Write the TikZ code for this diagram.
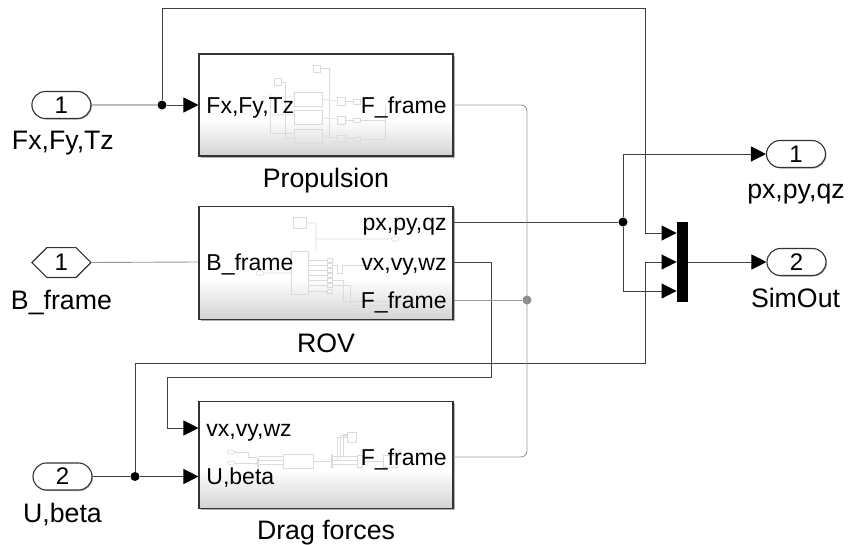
\documentclass[tikz,border=0pt]{standalone}
\usepackage{fontspec}
\setmainfont{Liberation Sans}
\usepackage{xcolor}
\usetikzlibrary{positioning,arrows.meta,calc,shapes.misc,shadows}
\pgfdeclareverticalshading{blkgrad}{100bp}{color(0bp)=(black!17); color(25bp)=(black!17); color(43bp)=(white); color(100bp)=(white)}

\begin{document}
\begin{tikzpicture}[x=1pt,y=-1pt,>={Triangle[length=15pt,width=15pt,color=black]},line width=0.9pt]
\tikzstyle{blk}=[draw=black!80,line width=1.1pt,shading=blkgrad,minimum width=254pt,inner sep=0pt,drop shadow={shadow xshift=1.5pt,shadow yshift=-1.5pt,fill=black,opacity=.3}]
\tikzstyle{txt}=[font=\fontsize{23}{26}\selectfont,inner sep=0pt,text height=16.5pt,text depth=0pt]
\tikzstyle{lbl}=[font=\fontsize{26.7}{29}\selectfont,inner sep=0pt,text height=18.6pt,text depth=0pt]
\tikzstyle{inp}=[draw=black!80,line width=1.1pt,fill=white,rounded rectangle,minimum width=59pt,minimum height=27pt,inner sep=0pt,font=\fontsize{24}{26}\selectfont,drop shadow={shadow xshift=1pt,shadow yshift=-1pt,fill=black,opacity=.3}]
\tikzstyle{gto}=[draw=black!80,line width=1.1pt,fill=white,chamfered rectangle,chamfered rectangle xsep=12pt,chamfered rectangle ysep=14pt,minimum width=59pt,minimum height=28pt,inner sep=0pt,font=\fontsize{24}{26}\selectfont]
\tikzstyle{wire}=[draw=black!75]
\tikzstyle{gwire}=[draw=black!40,rounded corners=6pt]
\tikzstyle{dot}=[circle,fill=black,inner sep=0pt,minimum size=9pt]
\tikzstyle{gdot}=[circle,fill=black!45,inner sep=0pt,minimum size=9pt]
\tikzstyle{thumb}=[draw=black!14,line width=.6pt]
\useasboundingbox (0,0) rectangle (848,544);

\node[blk,minimum height=102pt] (prop) at (326,105) {};
\node[blk,minimum height=113pt,below=49pt of prop] (rov) {};
\node[blk,minimum height=107pt,below=81pt of rov] (drag) {};

% faint contents of the subsystems
\draw[thumb] (294,92) rectangle (322,106) (294,110) rectangle (322,124) (294,129) rectangle (322,143);
\draw[thumb] (313,65) rectangle (320,72) (274,78) rectangle (281,85);
\draw[thumb] (337,97) rectangle (345,105) (337,116) rectangle (345,124) (337,135) rectangle (345,142);
\draw[thumb] (353,99) rectangle (360,104) (353,118) rectangle (360,122) (353,137) rectangle (360,141);
\draw[thumb] (320,68)--(329,68)--(329,138) (281,82)--(285,82)--(285,138)--(294,138) (270,95)--(270,133)--(294,133);
\draw[thumb] (262,97)--(294,97) (272,115)--(294,115) (322,99)--(337,101) (322,118)--(337,119) (322,137)--(337,138);
\draw[thumb] (345,101)--(353,101) (345,120)--(353,120) (345,138)--(353,138) (360,120)--(385,120) (360,139)--(385,139)--(385,105);

\draw[thumb] (293,217) rectangle (306,228) (291,251) rectangle (308,294);
\draw[thumb] (306,223)--(316,223)--(316,251) (316,239)--(390,239) (395,239) ellipse (4pt and 2.5pt);
\draw[thumb] (260,273) ellipse (4pt and 2.5pt) (264,273)--(291,273);
\foreach \yy in {260,265,270,275,280,285,291} {
  \draw[thumb] (308,\yy)--(327,\yy) (327,\yy-2) rectangle (332,\yy+2);
}
\draw[thumb] (332,265)--(337,265)--(337,273)--(342,273)--(342,265)--(372,265) (332,280)--(343,280)--(343,301)--(400,301) (332,285)--(350,285)--(350,305)--(400,305);

\draw[thumb] (231,452) ellipse (4pt and 2pt) (231,463) ellipse (4pt and 2pt);
\draw[thumb] (235,452)--(248,452)--(248,457)--(257,457) (235,463)--(257,463) (257,458) rectangle (258,467);
\draw[thumb] (258,456)--(283,456) (258,460)--(283,460) (258,464)--(283,464) (283,454) rectangle (313,468);
\draw[thumb] (313,461)--(331,461) (331,454) rectangle (332,467) (347,432) rectangle (356,442);
\draw[thumb] (337,460)--(337,437)--(347,437) (340,458)--(340,435)--(347,435) (343,456)--(343,434)--(347,434);
\draw[thumb] (332,456)--(357,456) (332,460)--(357,460) (332,464)--(357,464) (357,455) rectangle (362,467);
\draw[thumb] (383,455) rectangle (397,467) (362,461)--(383,461);

\node[txt,anchor=west] (propfx) at (206,105) {Fx,Fy,Tz};
\node[txt,anchor=east] (propf) at (447,105) {F\_frame};
\node[txt,anchor=west] (rovb) at (206,262) {B\_frame};
\node[txt,anchor=east] (rovp) at (447,222) {px,py,qz};
\node[txt,anchor=east] (rovv) at (447,262.5) {vx,vy,wz};
\node[txt,anchor=east] (rovf) at (447,300) {F\_frame};
\node[txt,anchor=west] (dragv) at (206,428) {vx,vy,wz};
\node[txt,anchor=west] (dragu) at (206,476.5) {U,beta};
\node[txt,anchor=east] (dragf) at (447,457) {F\_frame};

\node[lbl,below=12pt of prop] {Propulsion};
\node[lbl,below=14pt of rov] {ROV};
\node[lbl,below=12pt of drag] {Drag forces};

\node[inp,left=107pt of prop] (in1) {1};
\node[gto,left=107pt of rov] (bfrm) {1};
\node[inp] (in2) at (62.5,476.5) {2};
\node[lbl,below=11pt of in1,xshift=1.5pt] {Fx,Fy,Tz};
\node[lbl,below=12pt of bfrm] {B\_frame};
\node[lbl,below=13pt of in2] {U,beta};

\node[fill=black,minimum width=11pt,minimum height=80pt,inner sep=0pt] (mux) at (682.5,262) {};
\node[inp] (out1) at (796,154) {1};
\node[inp,right=78pt of mux] (out2) {2};
\node[lbl,below=11pt of out1] {px,py,qz};
\node[lbl,below=12pt of out2,xshift=-1pt] {SimOut};

\coordinate (mux1) at (mux.west |- 0,233);
\coordinate (mux2) at (mux.west);
\coordinate (mux3) at (mux.west |- 0,291);

\node[dot] (j1) at (162,105) {};
\node[dot] (j2) at (623,222) {};
\node[dot] (j3) at (135,476.5) {};
\node[gdot] (j4) at (527,300) {};

\draw[wire] (in1)--(j1);
\draw[wire,->] (j1)--(propfx -| prop.west);
\draw[wire,->] (j1)--(162,8)--(645,8)--(645,233)--(mux1);
\draw[wire] (rovp -| rov.east)--(j2);
\draw[wire,->] (j2)|-(out1);
\draw[wire,->] (j2)|-(mux3);
\draw[wire,->] (rovv -| rov.east)--(491,262.5)--(491,377)--(167,377)--(167,428)--(dragv -| drag.west);
\draw[wire] (in2)--(j3);
\draw[wire,->] (j3)--(dragu -| drag.west);
\draw[wire,->] (j3)--(135,363)--(645,363)--(645,262)--(mux2);
\draw[wire,->] (mux)--(out2);
\draw[gwire] (propf -| prop.east)--(527,105)--(527,457)--(dragf -| drag.east);
\draw[gwire] (rovf -| rov.east)--(j4);
\draw[gwire] (bfrm)--(rovb -| rov.west);
\end{tikzpicture}
\end{document}
